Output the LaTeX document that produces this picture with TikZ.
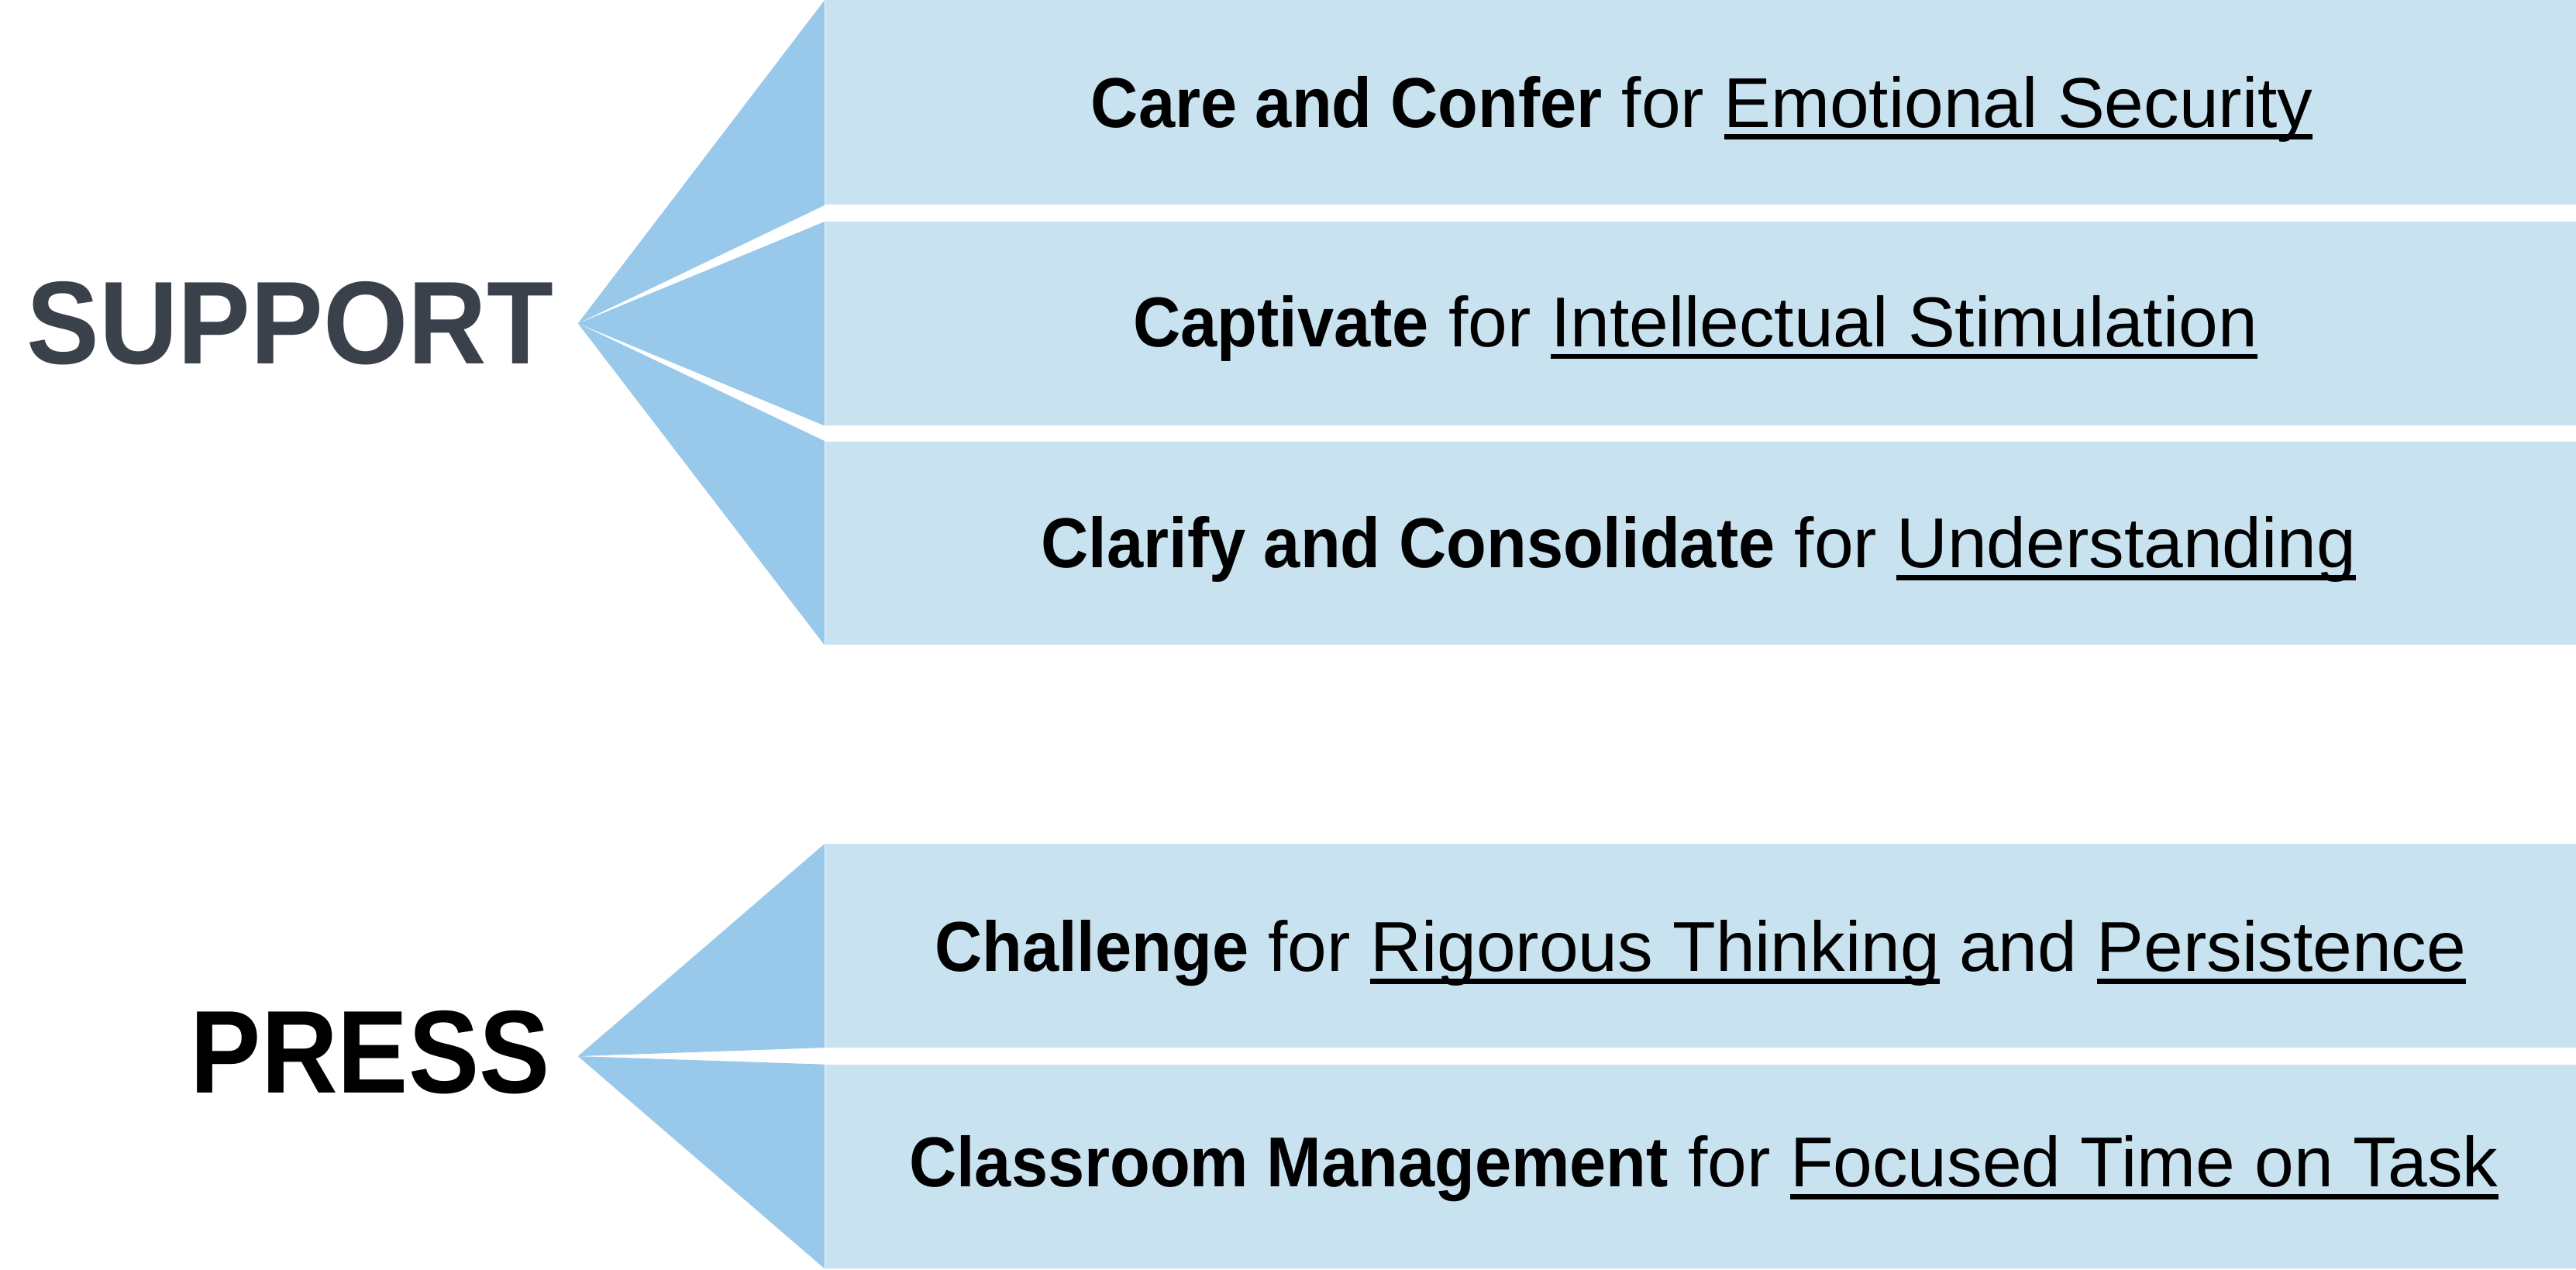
\documentclass[tikz,border=0pt]{standalone}
\usepackage{fontspec}
\setmainfont{Liberation Sans}[BoldFeatures={FakeStretch=0.93}]
\newfontfamily\headfont{Liberation Sans}[FakeStretch=0.9]
\newfontfamily\headfontwide{Liberation Sans}[FakeStretch=0.925]
\definecolor{darkblue}{HTML}{99C9EA}
\definecolor{lightblue}{HTML}{C9E2F0}
\definecolor{slate}{HTML}{3B414B}
\newcommand\myul[1]{\setbox0\hbox{#1}\leavevmode\rlap{\rule[-7.5pt]{\wd0}{3.1pt}}\box0\relax}
\begin{document}
\begin{tikzpicture}[x=1pt,y=-1pt,
  band/.style={fill=lightblue, draw=none, rectangle, minimum width=1066pt, inner sep=0pt, anchor=north west},
  fan/.style={fill=darkblue},
  itemtext/.style={font=\fontsize{43}{50}\selectfont, anchor=base, inner sep=0pt},
  head/.style={font=\fontsize{71.7}{80}\selectfont\bfseries, anchor=base east, inner sep=0pt}]
\useasboundingbox (0,0) rectangle (1568,772.7);
\node[band, minimum height=124.5pt] (r1) at (502,0) {};
\node[band, minimum height=123.9pt] (r2) at (502,134.9) {};
\node[band, minimum height=124pt] (r3) at (502,268.5) {};
\node[band, minimum height=123.8pt] (r4) at (502,513.6) {};
\node[band, minimum height=124pt] (r5) at (502,648) {};
\coordinate (a1) at (351.8,196.9);
\coordinate (a2) at (351.8,643);
\fill[fan] (a1) -- (r1.north west) -- (r1.south west) -- cycle;
\fill[fan] (a1) -- (r2.north west) -- (r2.south west) -- cycle;
\fill[fan] (a1) -- (r3.north west) -- (r3.south west) -- cycle;
\fill[fan] (a2) -- (r4.north west) -- (r4.south west) -- cycle;
\fill[fan] (a2) -- (r5.north west) -- (r5.south west) -- cycle;
\node[head, text=slate] (support) at (337,221.4) {\headfontwide SUPPORT};
\node[head, text=black] (press) at (335,665.5) {\headfont PRESS};
\node[itemtext] (t1) at (1036,77.4) {\textbf{Care and Confer} for \myul{Emotional Security}};
\node[itemtext] (t2) at (1032,211) {\textbf{Captivate} for \myul{Intellectual Stimulation}};
\node[itemtext] (t3) at (1034,345.6) {\textbf{Clarify and Consolidate} for \myul{Understanding}};
\node[itemtext] (t4) at (1035,591.5) {\textbf{Challenge} for \myul{Rigorous Thinking} and \myul{Persistence}};
\node[itemtext] (t5) at (1037,722.5) {\textbf{Classroom Management} for \myul{Focused Time on Task}};
\end{tikzpicture}
\end{document}
